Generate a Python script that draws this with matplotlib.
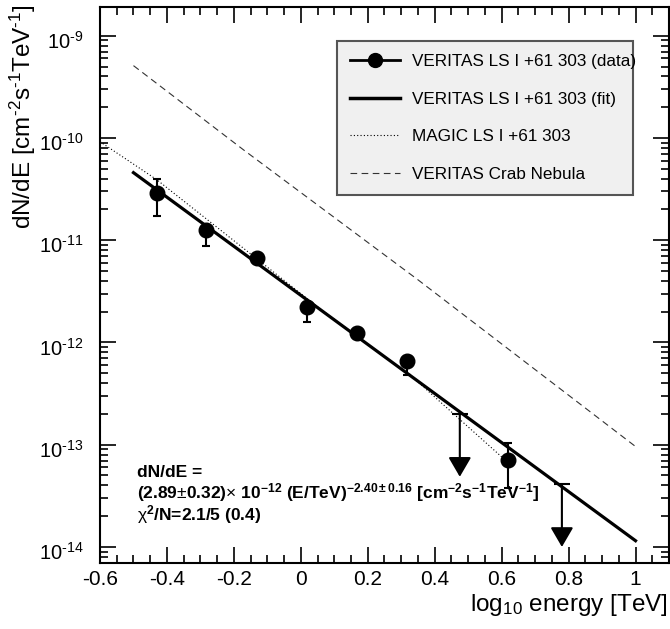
import numpy as np
import matplotlib
matplotlib.use('Agg')
import matplotlib.pyplot as plt
from matplotlib.lines import Line2D
from matplotlib.ticker import FixedLocator, LogLocator, MultipleLocator, FuncFormatter
import matplotlib.transforms as mtransforms

plt.rcParams['font.family'] = ['Liberation Sans', 'DejaVu Sans']
plt.rcParams['mathtext.fontset'] = 'custom'
plt.rcParams['mathtext.rm'] = 'Liberation Sans'
plt.rcParams['mathtext.it'] = 'Liberation Sans:italic'
plt.rcParams['mathtext.bf'] = 'Liberation Sans:bold'
plt.rcParams['axes.unicode_minus'] = False

# VERITAS LS I +61 303 flux points
log_e = [-0.431, -0.282, -0.132, 0.019, 0.169, 0.317, 0.619]
flux = [2.88e-11, 1.26e-11, 6.65e-12, 2.24e-12, 1.25e-12, 6.64e-13, 7.1e-14]
flux_lo = [1.74e-11, 8.85e-12, 6.0e-12, 1.6e-12, 1.12e-12, 4.8e-13, 3.75e-14]
flux_hi = [3.95e-11, 1.40e-11, 7.3e-12, 2.5e-12, 1.38e-12, 7.4e-13, 1.05e-13]

# upper limits
ul_e = [0.475, 0.78]
ul_flux = [1.99e-13, 4.1e-14]

# power-law fit: dN/dE = N0 * (E/TeV)^index
fit_n0 = 2.89e-12
fit_index = -2.40
fit_range = [-0.5, 1.0]

# MAGIC LS I +61 303
magic_e = [-0.6, -0.43, 0.06, 0.33, 0.60]
magic_flux = [9.2e-11, 3.9e-11, 2.1e-12, 4.7e-13, 7.6e-14]

# VERITAS Crab Nebula
crab_e = [-0.5, -0.17, 0.35, 1.0]
crab_flux = [5.1e-10, 7.6e-11, 4.1e-12, 9.6e-14]

decades = [-14, -13, -12, -11, -10, -9]

fig = plt.figure(figsize=(6.7, 6.29), dpi=100)
ax = fig.add_axes([100/670, 1-563/629, 569/670, 556/629])
ax.set_yscale('log')
ax.set_xlim(-0.6, 1.1)
ax.set_ylim(10**-14.157, 10**-8.719)

fe = np.array(fit_range)
ax.plot(fe, fit_n0 * 10**(fit_index * fe), color='k', lw=2.3, zorder=3)
ax.plot(magic_e, magic_flux, color='k', lw=0.8, ls=(0, (1, 2)), zorder=2)
ax.plot(crab_e, crab_flux, color='#333333', lw=0.8, ls=(0, (6, 4)), zorder=2)

f = np.array(flux)
yerr = [f - np.array(flux_lo), np.array(flux_hi) - f]
ax.errorbar(log_e, flux, yerr=yerr, fmt='o', color='k', ms=10.5, elinewidth=1.5,
            capsize=3.2, capthick=1.5, zorder=4)

for x, y in zip(ul_e, ul_flux):
    ax.plot([x], [y], marker='_', ms=12, mew=1.5, color='k', zorder=4)
    ax.annotate('', xy=(x, y / 4.1), xytext=(x, y),
                arrowprops=dict(arrowstyle='-|>,head_length=0.6,head_width=0.35',
                                color='k', lw=1.5, shrinkA=0, shrinkB=0,
                                mutation_scale=20), zorder=4)

# axes / ticks in ROOT style
for s in ax.spines.values():
    s.set_linewidth(1.5)
ax.xaxis.set_major_locator(MultipleLocator(0.2))
ax.xaxis.set_minor_locator(MultipleLocator(0.05))
ax.xaxis.set_major_formatter(FuncFormatter(lambda v, p: f'{v:.1f}'.rstrip('0').rstrip('.') if abs(v) > 1e-9 else '0'))
ax.yaxis.set_major_locator(FixedLocator([10.0**d for d in decades]))
ax.yaxis.set_minor_locator(LogLocator(base=10, subs=np.arange(2, 10), numticks=20))
ax.yaxis.set_major_formatter(FuncFormatter(lambda v, p: r'$10^{\text{-%d}}$' % abs(round(np.log10(v)))))
ax.tick_params(which='both', direction='in', top=True, right=True, width=1.2)
ax.tick_params(which='major', length=11.5)
ax.tick_params(which='minor', length=5.5)
ax.tick_params(axis='x', labelsize=15, pad=5)
ax.tick_params(axis='y', labelsize=14.5, pad=12)
off = mtransforms.ScaledTranslation(0, -0.04, fig.dpi_scale_trans)
for lab in ax.get_yticklabels():
    lab.set_transform(lab.get_transform() + off)

fig.text(8/670, 1-4/629, r'dN/dE [cm$^{\text{-2}}$s$^{\text{-1}}$TeV$^{\text{-1}}$]', rotation=90,
         ha='left', va='top', fontsize=17.5)
fig.text(668/670, 1-611/629, r'log$_{10}$ energy [TeV]', ha='right', va='baseline', fontsize=17.5)

# fit result
tx = 36.7/569
ax.text(tx, 0.162, 'dN/dE =', transform=ax.transAxes, fontsize=12.5,
        fontweight='bold', va='center')
ax.text(tx, 0.126,
        r'(2.89$\pm$0.32)$\times$ 10$^{\mathbf{-12}}$ (E/TeV)$^{\mathbf{-2.40\pm0.16}}$ '
        r'[cm$^{\mathbf{-2}}$s$^{\mathbf{-1}}$TeV$^{\mathbf{-1}}$]',
        transform=ax.transAxes, fontsize=12.5, fontweight='bold', va='center')
ax.text(tx, 0.088, r'$\mathrm{\chi}^{\mathbf{2}}$/N=2.1/5 (0.4)', transform=ax.transAxes,
        fontsize=12.5, fontweight='bold', va='center')

handles = [
    Line2D([], [], color='k', lw=2, marker='o', ms=10),
    Line2D([], [], color='k', lw=2.5),
    Line2D([], [], color='k', lw=0.8, ls=(0, (1, 2))),
    Line2D([], [], color='#333333', lw=0.8, ls=(0, (6, 4))),
]
labels = ['VERITAS LS I +61 303 (data)', 'VERITAS LS I +61 303 (fit)',
          'MAGIC LS I +61 303', 'VERITAS Crab Nebula']
leg = ax.legend(handles, labels, loc='upper left', bbox_to_anchor=(0.416, 0.664, 0.521, 0.275),
                mode='expand', borderaxespad=0, fontsize=12.3, handlelength=2.9,
                handletextpad=0.7, labelspacing=1.32, borderpad=0.78,
                fancybox=False, framealpha=1, facecolor='#f0f0f0', edgecolor='#555555')
leg.get_frame().set_linewidth(1.5)

fig.savefig('out.png', dpi=100, facecolor='white')
